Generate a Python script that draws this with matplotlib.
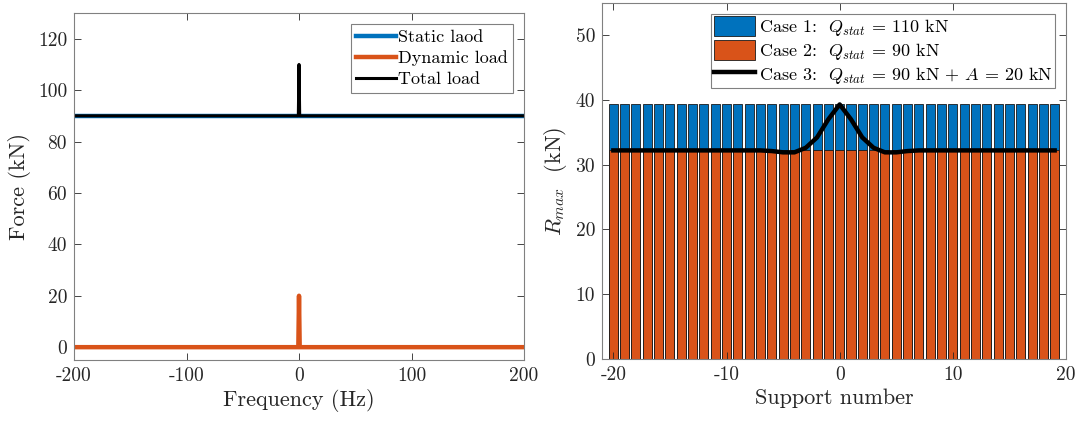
import numpy as np
import matplotlib
matplotlib.use('Agg')
import matplotlib.pyplot as plt

plt.rcParams['font.family'] = 'serif'
plt.rcParams['font.serif'] = ['cmr10']
plt.rcParams['mathtext.fontset'] = 'cm'
plt.rcParams['axes.unicode_minus'] = False
plt.rcParams['axes.formatter.use_mathtext'] = False

# Left panel data: load spectrum
freq = [-200, -0.6, 0, 0.6, 200]
static_load = [90, 90, 90, 90, 90]
dynamic_load = [0, 0, 20, 0, 0]
total_load = [90, 90, 110, 90, 90]

# Right panel data: max support reactions
supports = list(range(-20, 20))
case1 = [39.4] * 40
case2 = [32.2] * 40
case3 = ([32.2] * 14
         + [32.1, 31.9, 31.9, 32.6, 34.2, 37.0, 39.3, 37.0, 34.2, 32.6, 31.9, 31.9, 32.1]
         + [32.2] * 13)

blue = '#0072BD'
orange = '#D95319'
axcol = '#262626'

fig = plt.figure(figsize=(10.82, 4.23), dpi=100)


def style_axes(ax):
    for s in ax.spines.values():
        s.set_color('#808080')
        s.set_linewidth(0.8)
    ax.tick_params(direction='in', top=True, right=True, length=5,
                   width=0.6, color=axcol, labelsize=14, labelcolor=axcol, pad=5)


# Left: frequency domain loads
ax1 = fig.add_axes([0.0684, 0.1489, 0.4159, 0.8203])
ax1.plot(freq, static_load, color=blue, lw=3.2, label='Static laod')
ax1.plot(freq, dynamic_load, color=orange, lw=3.2, label='Dynamic load')
ax1.plot(freq, total_load, color='black', lw=2.2, label='Total load')
ax1.set_xlim(-200, 200)
ax1.set_ylim(-5, 130)
ax1.set_xticks([-200, -100, 0, 100, 200])
ax1.set_yticks([0, 20, 40, 60, 80, 100, 120])
ax1.set_xlabel('Frequency (Hz)', fontsize=16, color=axcol, labelpad=3)
ax1.set_ylabel('Force (kN)', fontsize=16, color=axcol, labelpad=5)
style_axes(ax1)
leg1 = ax1.legend(loc='upper right', fontsize=13, fancybox=False, framealpha=1,
                  edgecolor='#808080', handlelength=2.2, handletextpad=0.1,
                  borderpad=0.3, labelspacing=0.3, borderaxespad=0.6)
leg1.get_frame().set_linewidth(0.8)

# Right: support reactions
ax2 = fig.add_axes([0.5564, 0.1513, 0.4288, 0.8423])
b1 = ax2.bar(supports, case1, width=0.8, color=blue, edgecolor='#1a1a1a', lw=0.6,
             label='Case 1:  $Q_{stat}$ = 110 kN')
b2 = ax2.bar(supports, case2, width=0.8, color=orange, edgecolor='#1a1a1a', lw=0.6,
             label='Case 2:  $Q_{stat}$ = 90 kN')
l3, = ax2.plot(supports, case3, color='black', lw=3.2,
               label='Case 3:  $Q_{stat}$ = 90 kN + $A$ = 20 kN')
ax2.set_xlim(-21, 20)
ax2.set_ylim(0, 55)
ax2.set_xticks([-20, -10, 0, 10, 20])
ax2.set_yticks([0, 10, 20, 30, 40, 50])
ax2.set_xlabel('Support number', fontsize=16, color=axcol, labelpad=3)
ax2.set_ylabel('$R_{max}$  (kN)', fontsize=16, color=axcol, labelpad=5)
style_axes(ax2)
leg2 = ax2.legend(handles=[b1, b2, l3], loc='upper right', fontsize=13,
                  fancybox=False, framealpha=1, edgecolor='#808080',
                  handlelength=2.3, handleheight=1.3, handletextpad=0.2,
                  borderpad=0.15, labelspacing=0.1, borderaxespad=0.6)
leg2.get_frame().set_linewidth(0.8)

fig.savefig('out.png', dpi=100)
